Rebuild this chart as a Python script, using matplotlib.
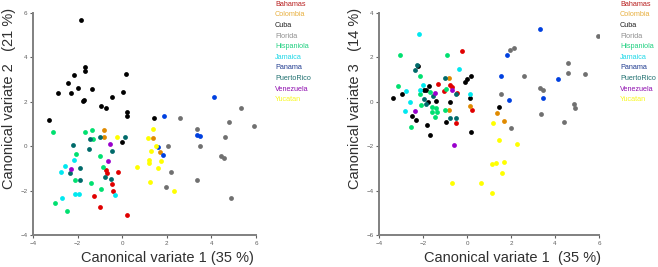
import matplotlib
matplotlib.use("Agg")
import matplotlib.pyplot as plt

plt.rcParams['font.family'] = ['Liberation Sans', 'DejaVu Sans']

groups = ["Bahamas", "Colombia", "Cuba", "Florida", "Hispaniola", "Jamaica",
          "Panama", "PuertoRico", "Venezuela", "Yucatan"]
marker_colors = ["#e00000", "#e08a00", "#000000", "#707070", "#00e070", "#00e8f0",
                 "#0040e0", "#006a6a", "#9900cc", "#ffff00"]
legend_colors = ["#b82020", "#e8b040", "#202020", "#909090", "#20d080", "#20d8e8",
                 "#203c90", "#207070", "#9010b0", "#f8f820"]

# ---- Left panel: CV1 vs CV2 ----
bah_cv1a = [-0.71, -0.69, -0.20, -0.47, -0.43, -1.26, -1.01, 0.23]
bah_cv2 = [-1.06, -1.20, -1.14, -1.72, -2.02, -2.23, -2.75, -3.10]
col_cv1a = [-0.82, -0.83, 1.40, 1.70]
col_cv2 = [0.74, 0.43, 0.39, -0.28]
cub_cv1a = [-1.85, -3.28, -2.86, -2.44, -2.28, -2.18, -1.97, -1.67, -1.67, -1.77, -1.71,
            -1.37, -0.95, -0.74, -0.44, 0.04, 0.17, 0.20, 0.20, -0.02, 1.43]
cub_cv2 = [5.67, 1.19, 2.41, 2.84, 2.38, 3.22, 2.60, 3.58, 3.38, 2.03, 2.06,
           2.59, 1.79, 1.74, 2.21, 2.45, 3.26, 1.55, 1.35, 0.19, 1.28]
flo_cv1a = [2.59, 3.34, 3.37, 3.49, 4.61, 4.81, 5.34, 5.91, 4.42, 4.58, 4.90, 2.06, 2.18, 1.97]
flo_cv2 = [1.28, 0.78, -1.52, 0.00, 0.42, 1.10, 1.71, 0.90, -0.42, -0.51, -2.35, 0.00, -1.16, -1.83]
his_cv1a = [-3.09, -1.67, -1.35, -1.29, -2.06, -1.00, -0.85, -2.10, -1.42, -0.94, -3.00, -2.49]
his_cv2 = [0.66, 0.62, 0.71, 0.34, -0.33, -0.42, -0.92, -1.53, -1.65, -1.92, -2.54, -2.93]
jam_cv1a = [-2.15, -2.55, -2.74, -2.10, -1.95, -0.32, -2.70]
jam_cv2 = [-0.62, -0.88, -1.14, -2.17, -2.17, -2.22, -2.35]
pan_cv1a = [4.10, 1.89, 3.37, 3.49, 1.61, 1.85]
pan_cv2 = [2.20, 1.37, 0.50, 0.47, -0.05, -0.38]
pue_cv1a = [-1.44, -0.98, 0.14, -2.22, -1.50, -0.46, -1.88, -2.34, -0.76, -0.49, -1.89]
pue_cv2 = [0.34, 0.40, 0.40, 0.07, -0.12, -0.20, -1.00, -1.21, -1.39, -1.47, -1.52]
ven_cv1a = [-0.55, -0.65, -2.31]
ven_cv2 = [0.10, -0.67, -1.04]
yuc_cv1a = [-0.22, 0.66, 1.39, 1.16, 1.51, 1.28, 1.22, 1.19, 1.73, 1.61, 1.25, 2.33]
yuc_cv2 = [0.43, -0.92, 0.77, 0.36, 0.00, -0.23, -0.62, -0.77, -0.66, -0.96, -1.61, -2.02]

# ---- Right panel: CV1 vs CV3 ----
bah_cv1b = [-0.23, -1.32, -0.76, -0.70, -1.06, -0.47, -0.48, 0.21]
bah_cv3 = [2.29, 0.79, 0.75, 0.67, 0.48, 0.39, -0.95, -0.38]
col_cv1b = [-0.83, -0.83, 0.12, 1.35, 1.67]
col_cv3 = [1.05, -0.38, -0.20, -0.50, -0.87]
cub_cv1b = [-3.36, -2.94, -2.52, -2.33, -2.23, -1.97, -1.85, -1.73, -1.77, -1.39, -1.82,
            -1.70, -0.79, -0.97, -0.09, 0.00, 0.20, 0.15, 0.18, 1.44]
cub_cv3 = [0.18, 0.34, -0.66, -0.84, 1.63, 0.52, 0.52, 0.72, 0.00, 0.04, -1.04,
           -1.50, -0.02, -0.89, 0.90, 1.03, 1.17, 0.19, -1.35, -0.23]
flo_cv1b = [5.97, 2.14, 1.94, 2.59, 1.53, 2.00, 4.61, 4.58, 5.36, 3.33, 3.45, 3.36, 4.85, 4.91, 4.41]
flo_cv3 = [2.95, 2.43, 2.32, 1.17, 0.37, -1.17, 1.77, 1.29, 1.27, 0.64, 0.55, -0.53, -0.08, -0.26, -0.90]
his_cv1b = [-3.06, -0.89, -2.15, -3.14, -1.70, -0.95, -2.15, -2.09, -1.59, -1.42, -1.45,
            -1.36, -1.58, -1.02, -2.56]
his_cv3 = [2.10, 2.13, 1.17, 0.70, 0.42, 0.58, 0.33, -0.15, -0.23, -0.30, -0.68,
           -0.48, -0.47, -0.38, -1.13]
jam_cv1b = [-2.18, -0.38, -2.00, -2.15, -2.76, -2.61, -2.80, 0.12]
jam_cv3 = [3.07, 1.47, 0.75, 0.52, 0.49, -0.03, -0.42, 0.34]
pan_cv1b = [3.33, 1.82, 1.56, 1.91, 4.12, 3.47]
pan_cv3 = [3.28, 2.11, 1.15, 0.07, 1.03, 0.15]
pue_cv1b = [-2.38, -2.26, -1.02, -1.95, -1.88, -1.55, -0.48, -0.79, -0.48]
pue_cv3 = [1.42, 1.65, 1.05, 0.12, -0.08, 0.27, 0.34, -0.72, -0.71]
ven_cv1b = [-0.68, -1.45, -2.36, -0.58]
ven_cv3 = [0.51, 0.39, -0.42, -1.95]
yuc_cv1b = [1.18, 1.45, 2.29, 1.15, 1.30, 1.67, 1.59, -0.67, 0.65, 1.15]
yuc_cv3 = [-0.96, -1.73, -1.92, -2.81, -2.75, -2.73, -3.21, -3.66, -3.65, -4.10]

left_data = [(bah_cv1a, bah_cv2), (col_cv1a, col_cv2), (cub_cv1a, cub_cv2),
             (flo_cv1a, flo_cv2), (his_cv1a, his_cv2), (jam_cv1a, jam_cv2),
             (pan_cv1a, pan_cv2), (pue_cv1a, pue_cv2), (ven_cv1a, ven_cv2),
             (yuc_cv1a, yuc_cv2)]
right_data = [(bah_cv1b, bah_cv3), (col_cv1b, col_cv3), (cub_cv1b, cub_cv3),
              (flo_cv1b, flo_cv3), (his_cv1b, his_cv3), (jam_cv1b, jam_cv3),
              (pan_cv1b, pan_cv3), (pue_cv1b, pue_cv3), (ven_cv1b, ven_cv3),
              (yuc_cv1b, yuc_cv3)]

W, H = 658, 267
fig = plt.figure(figsize=(W / 100, H / 100), dpi=100)

def px_axes(x0, x1, y0, y1):
    return fig.add_axes([x0 / W, 1 - y1 / H, (x1 - x0) / W, (y1 - y0) / H])

axL = px_axes(33, 256, 13, 235)
axR = px_axes(379, 599, 13, 235)

def style(ax, ylim, yticks):
    ax.set_xlim(-4, 6)
    ax.set_ylim(*ylim)
    ax.set_xticks([-4, -2, 0, 2, 4, 6])
    ax.set_yticks(yticks)
    for s in ["top", "right"]:
        ax.spines[s].set_visible(False)
    for s in ["left", "bottom"]:
        ax.spines[s].set_color("#808080")
        ax.spines[s].set_linewidth(1.4)
    ax.tick_params(axis="both", labelsize=4.5, colors="#606060", length=2, width=0.8, pad=2)

style(axL, (-4, 6), [-4, -2, 0, 2, 4, 6])
style(axR, (-6, 4), [-6, -4, -2, 0, 2, 4])

for (xs, ys), c in zip(left_data, marker_colors):
    axL.scatter(xs, ys, s=12, color=c, linewidths=0, zorder=3)
for (xs, ys), c in zip(right_data, marker_colors):
    axR.scatter(xs, ys, s=12, color=c, linewidths=0, zorder=3)

# axis titles
fig.text(167 / W, 1 - 258 / H, "Canonical variate 1 (35 %)", fontsize=10.5,
         ha="center", va="center", color="#303030")
fig.text(513 / W, 1 - 258 / H, "Canonical variate 1  (35 %)", fontsize=10.5,
         ha="center", va="center", color="#303030")
fig.text(9 / W, 1 - 98 / H, "Canonical variate 2   (21 %)", fontsize=10.5,
         ha="center", va="center", rotation=90, color="#303030")
fig.text(355 / W, 1 - 98 / H, "Canonical variate 3   (14 %)", fontsize=10.5,
         ha="center", va="center", rotation=90, color="#303030")

# legends
for lx in (275, 620):
    for i, (g, c) in enumerate(zip(groups, legend_colors)):
        fig.text(lx / W, 1 - (4.3 + i * 10.6) / H, g, fontsize=5.2, color=c,
                 ha="left", va="center")

fig.savefig("out.png", dpi=100)
